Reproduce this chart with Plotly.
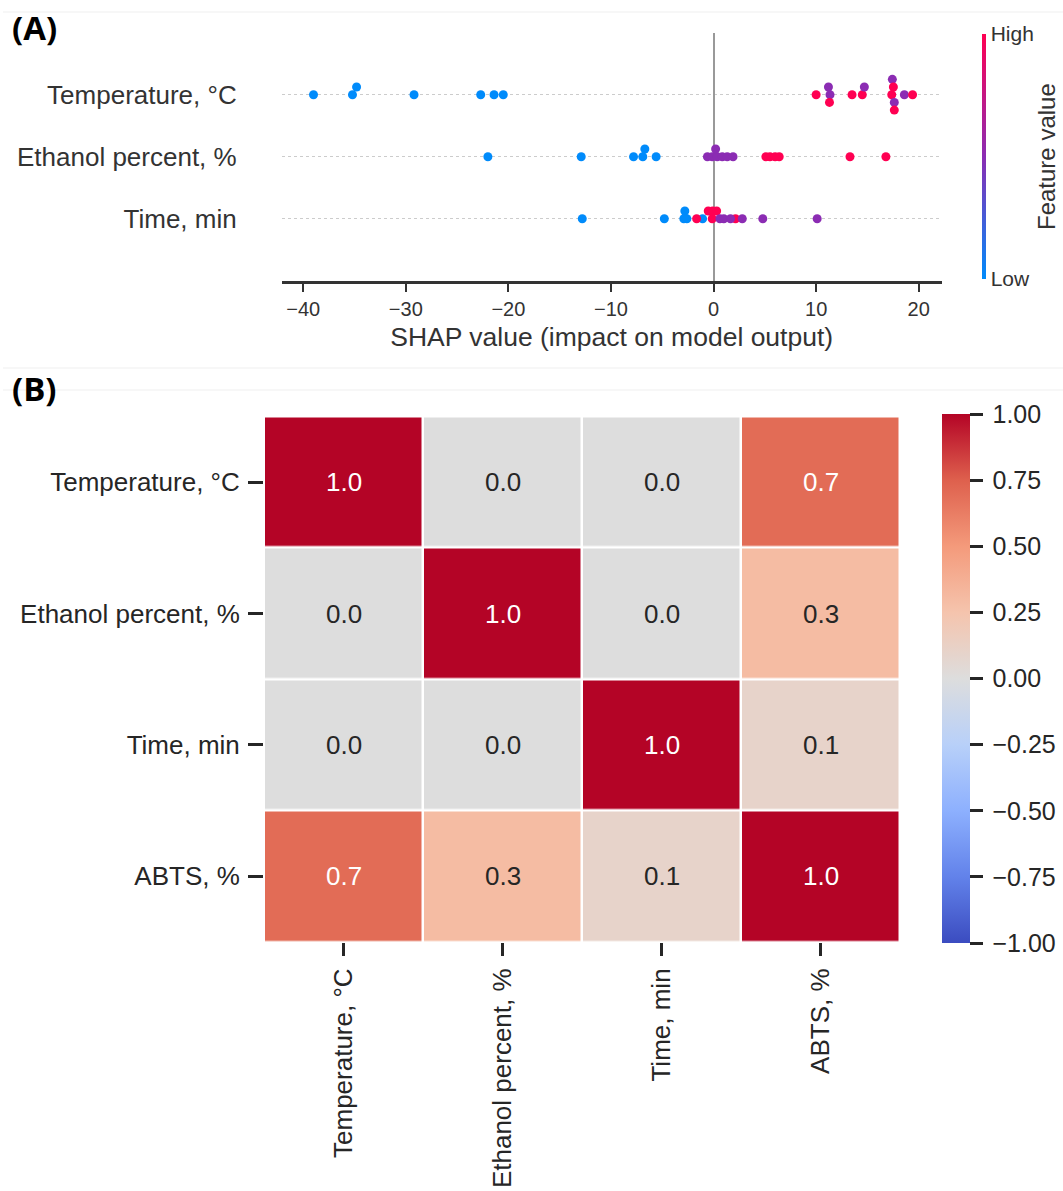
import plotly.graph_objects as go

# ---------------- DATA ----------------
features = ["Temperature, °C", "Ethanol percent, %", "Time, min"]

# SHAP values per feature, feature value level (0=low,0.5=mid,1=high),
# and stacking level of the beeswarm (0 = on the row line, +/-n = stacked dots)
temp_shap = [-39.0, -35.2, -34.8, -29.2, -22.7, -21.4, -20.5, 10.0, 11.2, 11.35, 11.3,
             13.5, 14.5, 14.7, 17.43, 17.53, 17.37, 17.62, 17.62, 18.6, 19.4]
temp_val = [0, 0, 0, 0, 0, 0, 0, 1, 0.5, 0.5, 1,
            1, 1, 0.5, 0.5, 1, 1, 0.5, 1, 0.5, 1]
temp_lvl = [0, 0, 1, 0, 0, 0, 0, 0, 1, 0, -1,
            0, 0, 1, 2, 1, 0, -1, -2, 0, 0]

eth_shap = [-22.0, -12.9, -7.8, -6.9, -6.7, -5.6, -0.6, -0.13, 0.36, 0.85, 1.33, 1.9, 0.2,
            5.1, 5.5, 6.0, 6.4, 13.3, 16.8]
eth_val = [0, 0, 0, 0, 0, 0, 0.5, 0.5, 0.5, 0.5, 0.5, 0.5, 0.5,
           1, 1, 1, 1, 1, 1]
eth_lvl = [0, 0, 0, 0, 1, 0, 0, 0, 0, 0, 0, 0, 1,
           0, 0, 0, 0, 0, 0]

time_shap = [-12.8, -4.8, -2.9, -2.6, -2.8, -1.07, -1.65, -0.13, -0.52, -0.09, 0.3,
             2.14, 0.62, 1.0, 1.65, 2.8, 4.8, 10.1]
time_val = [0, 0, 0, 0, 0, 0, 1, 1, 1, 1, 1,
            1, 0.5, 0.5, 0.5, 0.5, 0.5, 0.5]
time_lvl = [0, 0, 0, 0, 1, 0, 0, 0, 1, 1, 1,
            0, 0, 0, 0, 0, 0, 0]

x_ticks_a = [-40, -30, -20, -10, 0, 10, 20]

# correlation matrix (panel B)
corr_labels = ["Temperature, °C", "Ethanol percent, %", "Time, min", "ABTS, %"]
corr = [
    [1.0, 0.0, 0.0, 0.7],
    [0.0, 1.0, 0.0, 0.3],
    [0.0, 0.0, 1.0, 0.1],
    [0.7, 0.3, 0.1, 1.0],
]
cbar_ticks_b = [1.0, 0.75, 0.5, 0.25, 0.0, -0.25, -0.5, -0.75, -1.0]

# ---------------- LAYOUT HELPERS ----------------
W, H = 1063, 1191
def fx(p):
    return p / W
def fy(p):
    return 1 - p / H

FONT = "Liberation Sans, Arial, sans-serif"
DARK_A = "#333333"
DARK_B = "#262626"
SWARM_STEP = 0.124

shap_scale = [[0.0, "#008bfb"], [0.5, "#8b2cb3"], [1.0, "#ff0052"]]
coolwarm = [
    [0.0, "rgb(59,76,192)"], [0.125, "rgb(98,130,234)"], [0.25, "rgb(141,176,254)"],
    [0.375, "rgb(184,208,249)"], [0.5, "rgb(221,221,221)"], [0.625, "rgb(245,196,173)"],
    [0.75, "rgb(244,154,123)"], [0.875, "rgb(222,96,77)"], [1.0, "rgb(180,4,38)"],
]

fig = go.Figure()

# ---------------- PANEL A: SHAP beeswarm ----------------
rows = [(temp_shap, temp_val, temp_lvl), (eth_shap, eth_val, eth_lvl), (time_shap, time_val, time_lvl)]
n = len(features)
for i, (xs, vals, lvls) in enumerate(rows):
    base = n - 1 - i
    fig.add_trace(go.Scatter(
        x=xs,
        y=[base + l * SWARM_STEP for l in lvls],
        mode="markers",
        marker=dict(size=9, color=vals, coloraxis="coloraxis", line=dict(width=0)),
        showlegend=False, xaxis="x", yaxis="y", hoverinfo="x",
    ))

# ---------------- PANEL B: correlation heatmap ----------------
fig.add_trace(go.Heatmap(
    z=corr, x=corr_labels, y=corr_labels, coloraxis="coloraxis2",
    xgap=2.5, ygap=2.5, xaxis="x2", yaxis="y2", showscale=True,
))

annotations = []
for r, lab_r in enumerate(corr_labels):
    for c, lab_c in enumerate(corr_labels):
        v = corr[r][c]
        annotations.append(dict(
            x=lab_c, y=lab_r, xref="x2", yref="y2", text=f"{v:.1f}", showarrow=False,
            font=dict(size=26, family=FONT, color="white" if v >= 0.5 else DARK_B),
        ))

annotations += [
    dict(x=fx(10), y=fy(27), xref="paper", yref="paper", text="<b>(A)</b>", showarrow=False,
         xanchor="left", yanchor="middle", font=dict(size=33, family="Open Sans, sans-serif", color="black")),
    dict(x=fx(10), y=fy(388), xref="paper", yref="paper", text="<b>(B)</b>", showarrow=False,
         xanchor="left", yanchor="middle", font=dict(size=33, family="Open Sans, sans-serif", color="black")),
    dict(x=fx(1046), y=fy(157), xref="paper", yref="paper", text="Feature value", showarrow=False,
         textangle=-90, xanchor="center", yanchor="middle",
         font=dict(size=24, family=FONT, color=DARK_A)),
]

shapes = [
    dict(type="line", xref="paper", yref="paper", x0=fx(3), x1=1, y0=fy(12), y1=fy(12),
         line=dict(color="#efefef", width=1)),
    dict(type="line", xref="paper", yref="paper", x0=fx(3), x1=1, y0=fy(368), y1=fy(368),
         line=dict(color="#efefef", width=1)),
    dict(type="line", xref="paper", yref="paper", x0=fx(3), x1=1, y0=fy(390), y1=fy(390),
         line=dict(color="#efefef", width=1)),
]

# colorbar labels (with a thin leading space to mimic the reference's tick-label gap)
cbar_text_b = ["\u2009" + f"{t:.2f}".replace("-", "\u2212") for t in cbar_ticks_b]

fig.update_layout(
    width=W, height=H, margin=dict(l=0, r=0, t=0, b=0),
    paper_bgcolor="white", plot_bgcolor="white",
    font=dict(family=FONT, color=DARK_A),
    annotations=annotations, shapes=shapes,
    xaxis=dict(
        domain=[fx(281.7), fx(941.7)], range=[-42.1, 22.24], anchor="y",
        tickvals=x_ticks_a, tickfont=dict(size=20, color=DARK_A),
        showgrid=False, zeroline=True, zerolinecolor="#999999", zerolinewidth=2,
        showline=True, linecolor=DARK_A, linewidth=2.5,
        ticks="outside", ticklen=9, tickwidth=2, tickcolor=DARK_A,
        title=dict(text="SHAP value (impact on model output)", font=dict(size=26.5, color=DARK_A), standoff=8),
    ),
    yaxis=dict(
        domain=[fy(280.7), fy(32.7)], range=[-1, 3], anchor="x",
        tickvals=list(range(n)), ticktext=features[::-1],
        tickfont=dict(size=26, color=DARK_A), ticks="", showline=False, zeroline=False,
        showgrid=True, gridcolor="#cccccc", griddash="dot", gridwidth=1,
        ticklabelstandoff=44,
    ),
    xaxis2=dict(
        domain=[fx(264), fx(900)], anchor="y2", tickangle=-90,
        tickfont=dict(size=26, color=DARK_B), ticks="outside", ticklen=13, tickwidth=2.5,
        tickcolor=DARK_B, showgrid=False, zeroline=False, showline=False, ticklabelstandoff=2,
    ),
    yaxis2=dict(
        domain=[fy(942), fy(416.5)], anchor="x2", autorange="reversed",
        tickfont=dict(size=26, color=DARK_B), ticks="outside", ticklen=15, tickwidth=2.5,
        tickcolor=DARK_B, showgrid=False, zeroline=False, showline=False, ticklabelstandoff=3,
    ),
    coloraxis=dict(
        colorscale=shap_scale, cmin=0, cmax=1,
        colorbar=dict(
            x=fx(982), xanchor="left", xpad=0, ypad=0,
            y=fy(156.5), yanchor="middle", len=245, lenmode="pixels",
            thickness=4, outlinewidth=0,
            tickvals=[0, 1], ticktext=["Low", "High"], ticks="", ticklen=0,
            tickfont=dict(size=21, color=DARK_A, family=FONT),
        ),
    ),
    coloraxis2=dict(
        colorscale=coolwarm, cmin=-1, cmax=1,
        colorbar=dict(
            x=fx(941.7), xanchor="left", xpad=0, ypad=0,
            y=fy(678.5), yanchor="middle", len=529, lenmode="pixels",
            thickness=27.6, outlinewidth=0,
            tickvals=cbar_ticks_b, ticktext=cbar_text_b,
            ticks="outside", ticklen=13, tickwidth=2.5,
            tickcolor=DARK_B, tickfont=dict(size=25, color=DARK_B, family=FONT),
        ),
    ),
)

fig.write_html("out.html")
